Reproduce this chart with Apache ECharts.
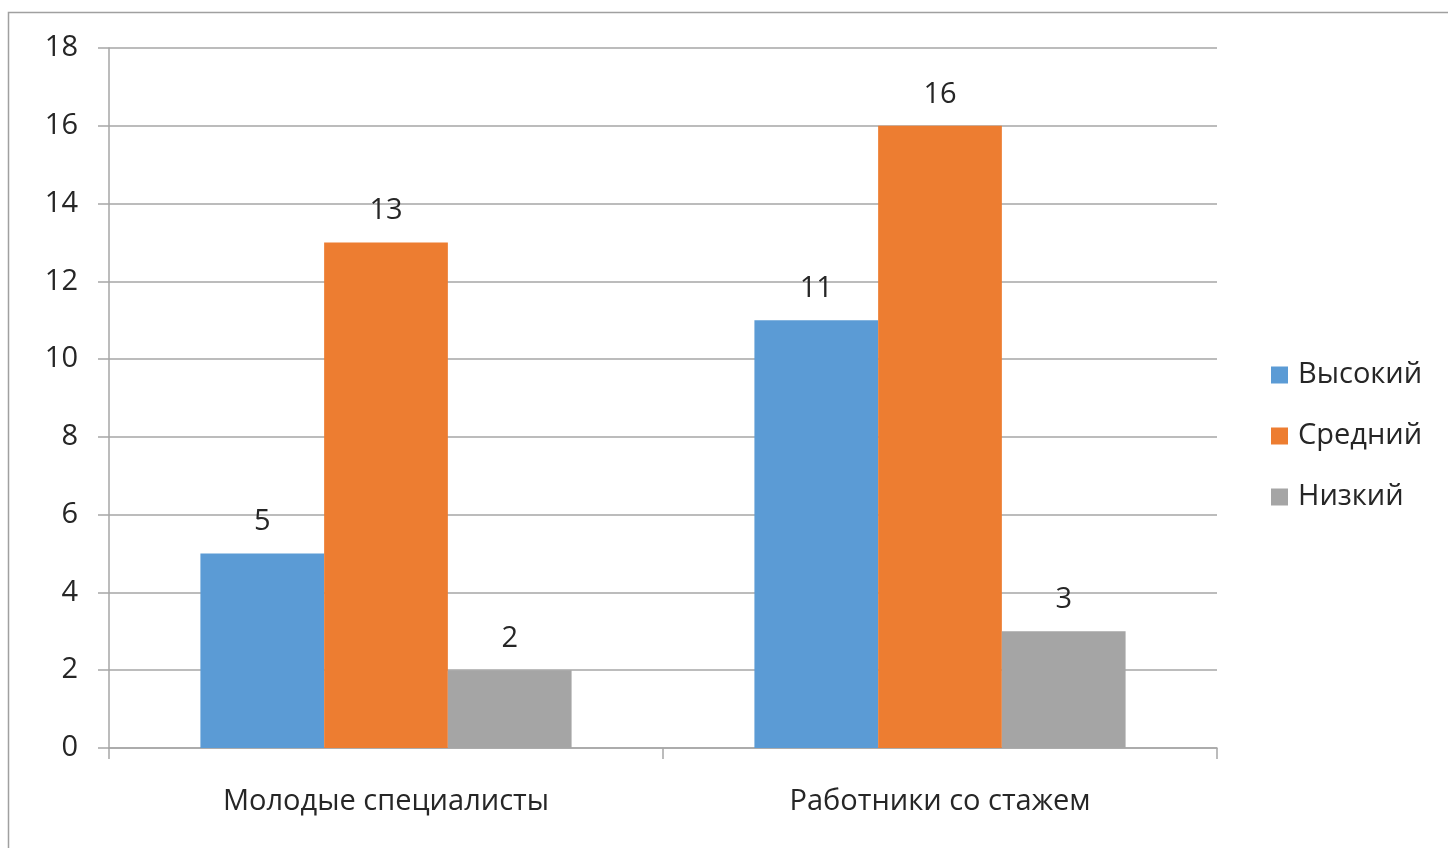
<!DOCTYPE html>
<html>
<head>
<meta charset="utf-8">
<script src="https://cdn.jsdelivr.net/npm/echarts@6/dist/echarts.min.js"></script>
<style>
  html, body { margin: 0; padding: 0; background: #fff; }
  #chart { width: 1448px; height: 848px; }
</style>
</head>
<body>
<div id="chart"></div>
<script>
// Groups on the category axis
const categories = ['Молодые специалисты', 'Работники со стажем'];
// Level series
const seriesNames = ['Высокий', 'Средний', 'Низкий'];
const highValues = [5, 11];
const midValues = [13, 16];
const lowValues = [2, 3];
const seriesColors = ['#5B9BD5', '#ED7D31', '#A5A5A5'];

const FONT = '"Open Sans", "Noto Sans", sans-serif';
const FONT_SIZE = 29;
const TEXT = '#262626';
const LINE = '#A6A6A6';

const chart = echarts.init(document.getElementById('chart'), null, { renderer: 'canvas' });

const valueSets = [highValues, midValues, lowValues];
const series = seriesNames.map((name, i) => ({
  name,
  type: 'bar',
  data: valueSets[i],
  barGap: '0%',
  barCategoryGap: '33%',
  itemStyle: { color: seriesColors[i] },
  label: {
    show: true,
    position: 'top',
    distance: 17,
    color: TEXT,
    fontFamily: FONT,
    fontSize: FONT_SIZE
  }
}));

chart.setOption({
  animation: false,
  graphic: [{
    type: 'rect',
    shape: { x: 8.5, y: 12.5, width: 1460, height: 860 },
    style: { fill: 'none', stroke: '#A0A0A0', lineWidth: 1.5 },
    silent: true
  }],
  grid: { left: 109, right: 231, top: 48, bottom: 100, containLabel: false },
  legend: {
    orient: 'vertical',
    left: 1271,
    top: 360,
    padding: 0,
    itemWidth: 17,
    itemHeight: 17,
    itemGap: 31,
    icon: 'rect',
    textStyle: { color: TEXT, fontFamily: FONT, fontSize: FONT_SIZE, lineHeight: 30, padding: [0, 0, 0, 5] },
    data: seriesNames
  },
  xAxis: {
    type: 'category',
    data: categories,
    axisLine: { lineStyle: { color: LINE, width: 1.5 } },
    axisTick: { show: true, length: 11, lineStyle: { color: LINE, width: 1.5 } },
    axisLabel: { color: TEXT, fontFamily: FONT, fontSize: FONT_SIZE, margin: 39 }
  },
  yAxis: {
    type: 'value',
    min: 0,
    max: 18,
    interval: 2,
    axisLine: { show: true, lineStyle: { color: LINE, width: 1.5 } },
    axisTick: { show: true, length: 11, lineStyle: { color: LINE, width: 1.5 } },
    axisLabel: { color: TEXT, fontFamily: FONT, fontSize: FONT_SIZE, margin: 31 },
    splitLine: { show: true, lineStyle: { color: LINE, width: 1.5 } }
  },
  series
});
</script>
</body>
</html>
